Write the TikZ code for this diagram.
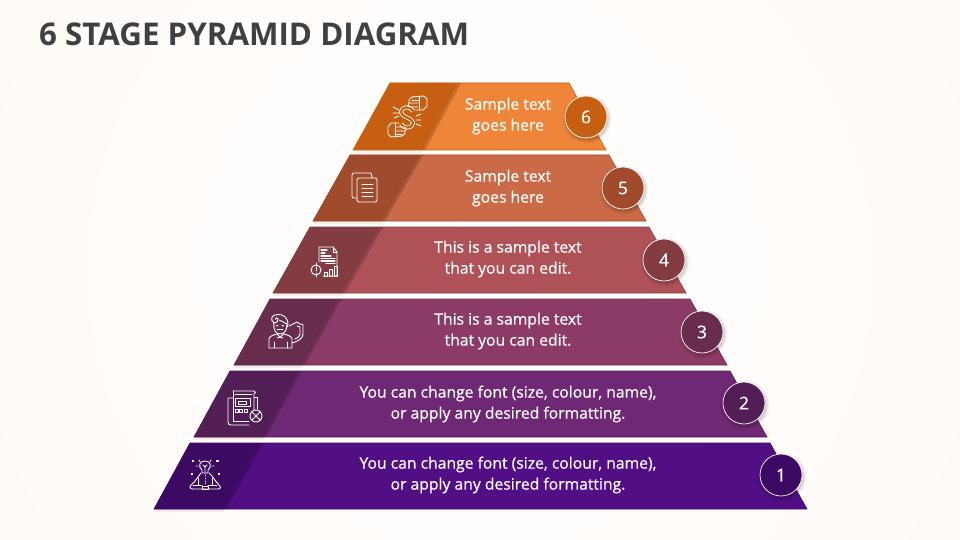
\documentclass[tikz,border=0pt]{standalone}
\usepackage{fontspec}
\setmainfont{Open Sans}
\newfontfamily\txtfont[FakeBold=0.6]{Open Sans}
\definecolor{bgout}{HTML}{FFFAF6}
\definecolor{titlec}{HTML}{404040}
\definecolor{aL}{HTML}{EE8538}\definecolor{aD}{HTML}{C65F12}
\definecolor{bL}{HTML}{CB6A47}\definecolor{bD}{HTML}{A04B2C}
\definecolor{cL}{HTML}{AE5257}\definecolor{cD}{HTML}{833D42}
\definecolor{dL}{HTML}{8C3B66}\definecolor{dD}{HTML}{682C4D}
\definecolor{eL}{HTML}{6F2873}\definecolor{eD}{HTML}{531E56}
\definecolor{fL}{HTML}{520E84}\definecolor{fD}{HTML}{3D0A63}
\tikzset{
  x=1pt,y=-1pt,
  layertext/.style={text=white,font=\txtfont\fontsize{15.7}{21}\selectfont,align=center,inner sep=0pt},
  badge/.style={circle,minimum size=42pt,inner sep=0pt,draw=white,line width=0.7pt,text=white,
    font=\txtfont\fontsize{17.5}{20}\selectfont},
  icon/.style={draw=white,line width=0.9pt,line join=round,line cap=round},
}
\begin{document}
\begin{tikzpicture}
\useasboundingbox (0,0) rectangle (960,540);
\fill[white] (0,0) rectangle (960,540);
\begin{scope}
\clip (0,0) rectangle (960,540);
\shade[inner color=white,outer color=bgout,shading=radial] (480,270) circle (560);
\end{scope}
\node[anchor=west,inner sep=0pt,text=titlec,font=\bfseries\fontsize{31.3}{36}\selectfont] (title) at (39,34) {6 STAGE PYRAMID DIAGRAM};

\foreach \yt/\yb/\tl/\bl/\tr/\br/\dt/\db/\cl/\cd in {
 83/150/390/353/569/606/458/422/aL/aD,
 155/221/350/313/609/646/420/382/bL/bD,
 227/293/310/273/649/686/380/342/cL/cD,
 299/365/270/234/690/727/338/302/dL/dD,
 371/437/230/194/730/767/298/263/eL/eD,
 443/509/190/154/770/807/260/224/fL/fD}{
  \fill[black,opacity=0.05] (\tl,\yt) -- (\dt,\yt) -- (\db,\yb+3) -- (\bl,\yb+3) -- cycle;
  \fill[\cl,draw=\cd,line width=0.6pt] (\tl,\yt) -- (\tr,\yt) -- (\br,\yb) -- (\bl,\yb) -- cycle;
  \fill[black,opacity=0.18] (\dt,\yt) -- (\dt+3,\yt) -- (\db+3,\yb) -- (\db,\yb) -- cycle;
  \fill[\cd] (\tl,\yt) -- (\dt,\yt) -- (\db,\yb) -- (\bl,\yb) -- cycle;
}

\node[layertext] (t6) at (508,116) {Sample text\\goes here};
\node[layertext] (t5) at (508,188) {Sample text\\goes here};
\node[layertext] (t4) at (508,259) {This is a sample text\\that you can edit.};
\node[layertext] (t3) at (508,331) {This is a sample text\\that you can edit.};
\node[layertext] (t2) at (508,404) {You can change font (size, colour, name),\\or apply any desired formatting.};
\node[layertext] (t1) at (508,475) {You can change font (size, colour, name),\\or apply any desired formatting.};

\foreach \px/\py in {586/117,623/188,664/260,702/332,744/403,781/475}{
  \foreach \rr/\oo in {24.5/0.03,23.5/0.04,22.5/0.05,21.5/0.07}{
    \fill[black,opacity=\oo] (\px+1,\py+2) circle (\rr);
  }
}
\node[badge,fill=aD] (n6) at (586,117) {6};
\node[badge,fill=bD] (n5) at (623,188) {5};
\node[badge,fill=cD] (n4) at (664,260) {4};
\node[badge,fill=dD] (n3) at (702,332) {3};
\node[badge,fill=eD] (n2) at (744,403) {2};
\node[badge,fill=fD] (n1) at (781,475) {1};

% icon 6 : hands and S
\begin{scope}[icon]
\path[draw=white,line width=4pt,line cap=butt] (413,111) .. controls (411,106) and (401,106) .. (401,112) .. controls (401,118) and (413,117) .. (413,123) .. controls (413,129) and (403,129) .. (401,124);
\path[draw=aD,line width=2.3pt,line cap=butt] (413,111) .. controls (411,106) and (401,106) .. (401,112) .. controls (401,118) and (413,117) .. (413,123) .. controls (413,129) and (403,129) .. (401,124);
\draw (412,97) -- (424,96) -- (427,99) -- (427,106) -- (423,110) -- (415,110);
\draw (412,97) .. controls (409,99) and (408,102) .. (409,103) -- (418,103);
\draw (409,103) .. controls (407,105) and (408,107) .. (410,107) -- (418,107);
\draw (412,100) -- (419,100) (419,97) -- (419,110);
\draw (399,123) -- (391,123) -- (388,127) -- (388,134) -- (391,137) -- (402,136);
\draw (402,136) .. controls (405,134) and (406,132) .. (405,131) -- (396,131);
\draw (405,131) .. controls (407,129) and (406,127) .. (404,127) -- (396,127);
\draw (396,134) -- (402,134) (395,123) -- (395,137);
\draw (393,107) -- (399,110) (393,113) -- (399,113) (394,118) -- (399,116);
\draw (416,116) -- (421,114) (416,120) -- (421,120) (416,124) -- (421,126);
\end{scope}

% icon 5 : documents
\begin{scope}[icon]
\draw (357,198) -- (354,198) .. controls (352.5,198) and (352,197) .. (352,196) -- (352,175) .. controls (352,174) and (353,173) .. (354,173) -- (370,173) .. controls (371,173) and (372,174) .. (372,178);
\draw[rounded corners=1.5pt] (357,178) rectangle (377,202);
\draw (362,184) -- (373,184) (362,188) -- (373,188) (362,192) -- (373,192) (362,196) -- (373,196);
\end{scope}

% icon 4 : report
\begin{scope}[icon]
\draw (319,262) -- (319,247) -- (333,247) -- (337,252) -- (337,276) -- (323,276);
\draw (333,247) -- (333,252) -- (337,252);
\draw[line width=1.1pt] (321,250) -- (327,250) (321,253) -- (325,253) (321,256) -- (331,256) (321,258.5) -- (335,258.5) (321,261) -- (335,261) (326,263.5) -- (335,263.5);
\draw (316,270) circle (5);
\draw (316,263) -- (316,266) (316,274) -- (316,277);
\draw (316,267) -- (316,271) (316,273) -- (316,273.5);
\draw (324,272) rectangle (327,276) (329,269) rectangle (332,276) (334,266) rectangle (337,276);
\end{scope}

% icon 3 : person with shield
\begin{scope}[icon]
\draw (274,323) .. controls (270,320) and (271,315) .. (277,314.5) .. controls (283,314) and (288,317) .. (288,325) -- (287,327);
\draw (274,323) .. controls (277,323) and (279,320) .. (278,318.5) .. controls (277,317) and (275,318) .. (275.5,319.5);
\draw (274,323) .. controls (273,330) and (276,334) .. (280,334) .. controls (284,334) and (287,331) .. (287,324) .. controls (284,322) and (281,321) .. (279,320);
\draw (276,326) -- (278,325.5) (282,325.5) -- (284,326);
\draw (277,329.5) -- (283,329.5);
\draw (269,348) -- (269,339) .. controls (269,336) and (274,335) .. (277,334) -- (280,337) -- (284,334) .. controls (287,335) and (292,336) .. (292,339) -- (292,348) -- cycle;
\draw (274,342) -- (274,348) (287,342) -- (287,348);
\draw (277,338) -- (280,337) -- (283,338);
\draw (289,326) -- (297,322) .. controls (299,324) and (301,324.5) .. (303,324.5) -- (303,334) .. controls (303,338) and (299,341) .. (292,343);
\draw (297,326) -- (300,327) -- (300,334) .. controls (300,336) and (298,338) .. (295,339);
\end{scope}

% icon 2 : newsletter with cross
\begin{scope}[icon]
\draw (233,398) -- (228,398) -- (228,422) .. controls (228,424) and (229,425) .. (231,425) -- (249,425);
\draw (233,391) -- (233,421) -- (249,421);
\draw (233,391) -- (254,391) .. controls (256,391) and (256,394) .. (254,394) -- (254,410);
\draw (254,397) -- (257,397) -- (257,409);
\draw (235,394) -- (252,394);
\draw (235,398.5) rectangle (250,406);
\draw (238,401) rectangle (246,404);
\draw (235,409) rectangle (238,412.5) (239.5,409) rectangle (242.5,412.5) (244,409) rectangle (247,412.5);
\draw (256,416) circle (6);
\draw (252,412) -- (260,420) (260,412) -- (252,420);
\end{scope}

% icon 1 : meditating with bulb
\begin{scope}[icon]
\draw (202,473) -- (202,470) .. controls (198,467) and (199,461) .. (205,461) .. controls (211,461) and (212,467) .. (208,470) -- (208,473) -- cycle;
\draw (205,473) -- (205,466) (203,465) -- (205,467) -- (207,465);
\draw (201,473) .. controls (198,476) and (197,480) .. (191,485) .. controls (189,487) and (190,489) .. (193,489) -- (218,489) .. controls (221,489) and (221,487) .. (219,485) .. controls (214,480) and (213,476) .. (209,473);
\draw (198,478) -- (198,485) (212,478) -- (212,485);
\draw (193,485) -- (202,485) (217,485) -- (208,485);
\draw (202,486) rectangle (208,489);
\draw (205,475) -- (205,476) (205,478) -- (205,479) (205,481) -- (205,482) (205,483.5) -- (205,484);
\draw (192,460) rectangle (193.5,461.5) (216.5,460) rectangle (218,461.5);
\draw (191,473) rectangle (192.5,474.5) (218,473) rectangle (219.5,474.5);
\draw (199,460) -- (200,461.5) (211,460) -- (210,461.5) (196,466) -- (198,466) (212,466) -- (214,466);
\end{scope}
\end{tikzpicture}
\end{document}
